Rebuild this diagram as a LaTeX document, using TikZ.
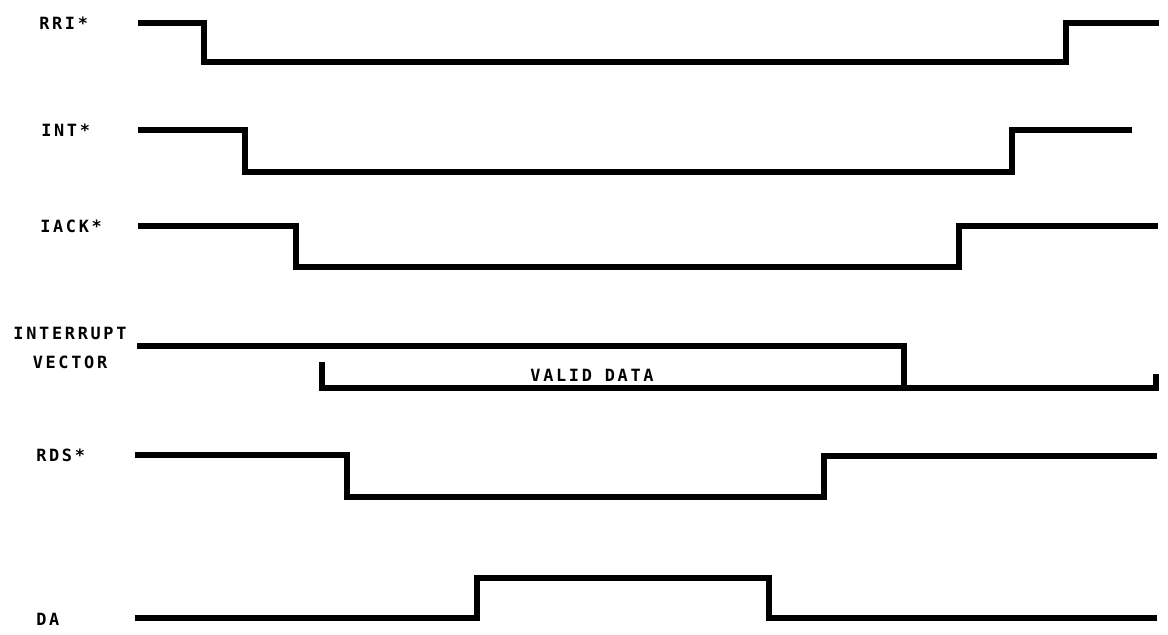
\documentclass[tikz,border=0pt]{standalone}
\usepackage{fontspec}
\newfontfamily\plotfont[LetterSpace=16]{DejaVu Sans Mono}
\tikzset{
  wave/.style={black, line width=3.6pt, line join=miter},
  lab/.style={font=\plotfont\bfseries\fontsize{12}{21}\selectfont,
              inner sep=0pt, anchor=west},
  datalab/.style={lab, anchor=center},
}
\begin{document}
\begin{tikzpicture}[x=0.025cm,y=-0.025cm]
  \path[use as bounding box] (0,0) rectangle (1168,635);

  % signal names
  \node[lab] (rri) at (39,23) {RRI*};
  \node[lab] (int) at (41,130) {INT*};
  \node[lab] (iack) at (40,226) {IACK*};
  \node[lab, anchor=center, align=center] (vec) at (70,348) {INTERRUPT\\VECTOR};
  \node[lab] (rds) at (36,455) {RDS*};
  \node[lab] (da) at (36,619) {DA};

  % waveforms
  \draw[wave] (138,23) -| (204,62) -| (1066,23) -- (1159,23);
  \draw[wave] (138,130) -| (245,172) -| (1012,130) -- (1132,130);
  \draw[wave] (138,226) -| (296,267) -| (959,226) -- (1158,226);
  \draw[wave] (137,346) -| (904,390);
  \draw[wave] (322,362) |- (1156,388) -- (1156,374);
  \node[datalab] (valid) at (592,375) {VALID DATA};
  \draw[wave] (135,455) -| (347,497) -| (824,456) -- (1157,456);
  \draw[wave] (135,618) -| (477,578) -| (769,618) -- (1157,618);
\end{tikzpicture}
\end{document}
